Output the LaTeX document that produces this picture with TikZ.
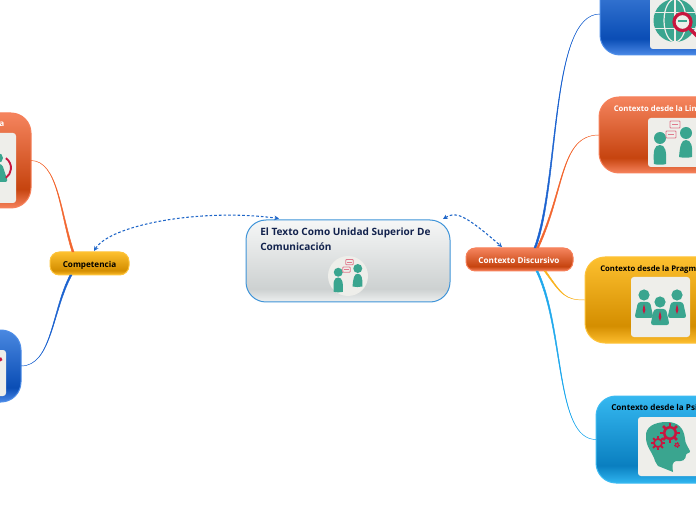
\documentclass[tikz,border=0pt]{standalone}
\usepackage{fontspec}
\setmainfont{Open Sans}
\usetikzlibrary{calc,arrows.meta}
\definecolor{tealc}{HTML}{3AA58F}
\definecolor{redc}{HTML}{C8163F}
\definecolor{pinkc}{HTML}{E0788C}
\definecolor{panelc}{HTML}{EEEEEA}
\definecolor{navyc}{HTML}{12224D}
\newcommand{\mkshade}[5]{%
 \definecolor{#1T}{HTML}{#2}\definecolor{#1D}{HTML}{#3}\definecolor{#1B}{HTML}{#4}%
 \pgfdeclareverticalshading{#1}{100bp}{color(0bp)=(#1B);color(25bp)=(#1B);color(#5bp)=(#1D);color(75bp)=(#1T);color(100bp)=(#1T)}}
\mkshade{shorange}{F5845E}{C6440F}{F6825C}{35}
\mkshade{shblue}{4A88E0}{0A4DB5}{4A88E6}{35}
\mkshade{shyellow}{FDC02F}{D48E00}{FDBD2E}{35}
\mkshade{shcyan}{35B8F0}{0A7FC0}{30B5F0}{35}
\mkshade{shgrey}{F6F7F7}{CDD1D1}{EEF0F0}{33}
\definecolor{FOr}{HTML}{F6805A}
\definecolor{FBl}{HTML}{4D8DE8}
\definecolor{FYe}{HTML}{FDC33A}
\definecolor{FCy}{HTML}{3DBBF2}
\definecolor{centb}{HTML}{3F94D8}
\definecolor{relc}{HTML}{1F66C8}
\definecolor{linkor}{HTML}{F2662F}
\definecolor{linkbl}{HTML}{1B62CF}
\definecolor{linkye}{HTML}{F9B21E}
\definecolor{linkcy}{HTML}{1FA8EC}
\tikzset{
 x=0.75pt,y=-0.75pt,
 boxnode/.style={inner sep=0pt,outer sep=0pt,text width=0pt,line width=0.75pt},
 topicor/.style={boxnode,shade,shading=shorange,draw=FOr,rounded corners=15pt},
 topicbl/.style={boxnode,shade,shading=shblue,draw=FBl,rounded corners=15pt},
 topicye/.style={boxnode,shade,shading=shyellow,draw=FYe,rounded corners=15pt},
 topiccy/.style={boxnode,shade,shading=shcyan,draw=FCy,rounded corners=15pt},
 pillor/.style={boxnode,shade,shading=shorange,draw=FOr,rounded corners=7pt},
 pillye/.style={boxnode,shade,shading=shyellow,draw=FYe,rounded corners=7pt},
 centralbox/.style={boxnode,shade,shading=shgrey,draw=centb,rounded corners=15pt},
 panelbox/.style={boxnode,fill=panelc,rounded corners=2.2pt},
 labelw/.style={inner sep=0pt,text=white,font=\fontsize{6.1pt}{7.5pt}\selectfont\bfseries},
 labelk/.style={inner sep=0pt,text=black,font=\fontsize{6.1pt}{7.5pt}\selectfont\bfseries},
 labelc/.style={inner sep=0pt,text=navyc,align=left,font=\fontsize{7.55pt}{10.6pt}\selectfont\bfseries},
 relation/.style={draw=relc,line width=0.8pt,dash pattern=on 2pt off 1.5pt,{Stealth[length=3.5pt,width=3.5pt]}-{Stealth[length=3.5pt,width=3.5pt]}},
 pics/convo/.style={code={
  \fill[tealc] (-13,-5) circle[radius=6];
  \fill[tealc] (-19,21) .. controls (-20,8) and (-19,2) .. (-13,2) .. controls (-8,2) and (-6,8) .. (-7,21) .. controls (-10,22) and (-16,22) .. (-19,21) -- cycle;
  \fill[tealc] (13,-10) circle[radius=6];
  \fill[tealc] (6,14) .. controls (7,3) and (8,-3) .. (13,-3) .. controls (18,-3) and (20,3) .. (19,14) .. controls (15,15) and (10,15) .. (6,14) -- cycle;
  \draw[pinkc,line width=.6pt,fill=panelc,rounded corners=.6pt] (-3,-22) rectangle (7,-15);
  \draw[pinkc,line width=.6pt,fill=panelc,rounded corners=.6pt] (-7,-12) rectangle (3,-5);
  \draw[pinkc,line width=.5pt] (-1,-18.5) -- (5,-18.5) (-5,-8.5) -- (1,-8.5);
 }},
 pics/person/.style={code={
  \fill[tealc] (0,-7) circle[radius=5.6];
  \fill[tealc,rounded corners=2pt] (-6,0) -- (6,0) -- (9.5,16) -- (-9.5,16) -- cycle;
  \fill[redc] (0,2) -- (1.4,8) -- (0,12) -- (-1.4,8) -- cycle;
 }},
}
\newcommand{\gearicon}[3]{% x, y, radius
 \draw[redc,line width=#3*0.22pt] (#1,#2) circle[radius=#3*.68];
 \foreach \a in {0,45,...,315}{\draw[redc,line width=#3*.24pt] ($(#1,#2)+(\a:#3*.75)$) -- ($(#1,#2)+(\a:#3*1.15)$);}
}
\newcommand{\taper}[6]{% colour, start, c1, c2, end, half width
 \draw[#1,fill=#1,line width=.35pt] ($(#2)+(-#6,0)$) .. controls ($(#3)+(-#6*.5,0)$) and (#4) .. (#5) .. controls (#4) and ($(#3)+(#6*.5,0)$) .. ($(#2)+(#6,0)$) -- cycle;}
\begin{document}
\begin{tikzpicture}
\useasboundingbox (0,0) rectangle (696,520);
\clip (0,0) rectangle (696,520);
% central
\node[centralbox,minimum width=204*.75pt,minimum height=82*.75pt] (central) at (348,261) {};
\node[labelc,anchor=north west] (centraltext) at (260,228) {El Texto Como Unidad Superior De\\Comunicación};
\node[circle,fill=panelc,minimum size=30pt,inner sep=0pt] (centralicon) at (348,276) {};
\pic[scale=.75] at (348,276) {convo};
% pills
\node[pillye,minimum width=79*.75pt,minimum height=23*.75pt] (comp) at (89.5,263.5) {};
\node[labelk] (comptext) at (89.5,265.5) {Competencia};
\node[pillor,minimum width=107*.75pt,minimum height=23*.75pt] (disc) at (519.5,259.5) {};
\node[labelw] (disctext) at (519,260) {Contexto Discursivo};
% left topics
\node[topicor,minimum width=131*.75pt,minimum height=95*.75pt] (lefta) at (-34.5,160.5) {};
\node[panelbox,minimum width=40*.75pt,minimum height=70*.75pt] (leftapanel) at (-4,168) {};
\node[labelw,anchor=base west] (leftatext) at (-1,126.5) {a};
\fill[tealc] (-2,158) circle[radius=5];
\fill[tealc,rounded corners=2pt] (-5,164) -- (2,164) -- (8,182) -- (-5,182) -- cycle;
\draw[redc,line width=1.4pt] (-1,168) ++(-55:12) arc[start angle=-55,end angle=55,radius=12];
\node[topicbl,minimum width=121*.75pt,minimum height=72*.75pt] (leftb) at (-39.5,366) {};
\node[panelbox,minimum width=30*.75pt,minimum height=46*.75pt] (leftbpanel) at (-9,373) {};
\fill[redc] (1,357) -- (2.5,360) -- (0,361.5) -- (-2,360) -- cycle;
% right topics
\node[topicbl,minimum width=200*.75pt,minimum height=82*.75pt] (web) at (700,14) {};
\node[panelbox,minimum width=100*.75pt,minimum height=60*.75pt] (webpanel) at (700,19) {};
\begin{scope}[shift={(675,20.5)}]
 \fill[tealc] (0,0) circle[radius=21.5];
 \begin{scope}
  \clip (0,0) circle[radius=21.5];
  \draw[panelc,line width=.9pt] (-25,-8) -- (25,-8) (-25,8) -- (25,8) (0,-25) -- (0,25);
  \draw[panelc,line width=.9pt] (0,0) ellipse[x radius=11,y radius=21.5];
 \end{scope}
\end{scope}
\draw[redc,line width=2.6pt,line cap=round] (690,29) -- (699,38);
\draw[redc,line width=2.4pt,fill=panelc] (682.5,22) circle[radius=8.5];
\fill[tealc] (678,20.5) rectangle (687,22.5);
\node[topicor,minimum width=200*.75pt,minimum height=76*.75pt] (ling) at (699,135) {};
\node[panelbox,minimum width=100*.75pt,minimum height=49*.75pt] (lingpanel) at (698,142.5) {};
\node[labelw,anchor=base west,font=\fontsize{5.8pt}{7.5pt}\selectfont\bfseries] (lingtext) at (613.5,112) {Contexto desde la Lin};
\pic at (673,143) {convo};
\node[topicye,minimum width=200*.75pt,minimum height=86*.75pt] (prag) at (685,300) {};
\node[panelbox,minimum width=59*.75pt,minimum height=60*.75pt] (pragpanel) at (660.5,307) {};
\node[labelk,anchor=base west,font=\fontsize{5.8pt}{7.5pt}\selectfont\bfseries] (pragtext) at (600,271.5) {Contexto desde la Pragm};
\pic at (644,302) {person};
\pic at (677,302) {person};
\pic at (660,309) {person};
\node[topiccy,minimum width=200*.75pt,minimum height=87*.75pt] (psi) at (696,439.5) {};
\node[panelbox,minimum width=100*.75pt,minimum height=59*.75pt] (psipanel) at (688,446.5) {};
\node[labelk,anchor=base west] (psitext) at (611,410.5) {Contexto desde la Psi};
\fill[tealc] (673,472) .. controls (672,466) and (672,462) .. (676,461) .. controls (682,462) and (686,460) .. (686,455) .. controls (686,453) and (691,453) .. (690,451) .. controls (688,447) and (685,443) .. (685,439) .. controls (684,428) and (678,422) .. (667,422) .. controls (654,422) and (645,427) .. (646,437) .. controls (646,447) and (652,452) .. (654,458) .. controls (655,462) and (657,464) .. (658,466) -- cycle;
\gearicon{670}{433}{8.5}
\gearicon{658}{443}{6}
\gearicon{677}{445}{2.6}
% connectors
\coordinate (compup) at ($(comp.north)+(-16.5,0)$);
\coordinate (compdown) at ($(comp.south)+(-18.5,0)$);
\coordinate (discup) at ($(disc.north)+(15.5,0)$);
\coordinate (discupb) at ($(disc.north)+(18,0)$);
\coordinate (discdown) at ($(disc.south)+(17.5,0)$);
\coordinate (discdownb) at ($(disc.south)+(25.5,0)$);
\taper{linkor}{compup}{60,212}{58,161}{lefta.east}{1}
\taper{linkbl}{compdown}{52,310}{52,366}{leftb.east}{1}
\taper{linkbl}{discup}{560,180}{550,14}{web.west}{1}
\taper{linkor}{discupb}{565,190}{560,135}{ling.west}{1}
\taper{linkye}{discdownb}{562,295}{565,300}{prag.west}{.9}
\taper{linkcy}{discdown}{565,330}{555,439.5}{psi.west}{1}
% relations
\coordinate (relcompend) at ($(comp.north)+(4.5,-1)$);
\coordinate (relcentl) at ($(central.north)+(-69,-1.5)$);
\coordinate (relcentr) at ($(central.north)+(95,-1)$);
\coordinate (reldisc) at ($(disc.north)+(-17.5,-1)$);
\draw[relation] (relcompend) .. controls (110,225) and (200,208) .. (relcentl);
\draw[relation] (relcentr) .. controls (455,212) and (462,212) .. (reldisc);
\end{tikzpicture}
\end{document}
